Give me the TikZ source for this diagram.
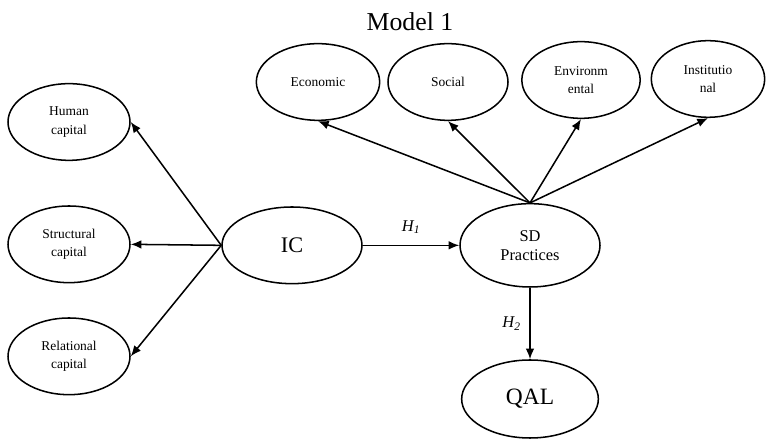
\documentclass[tikz,border=0pt]{standalone}
\usepackage{fontspec}
\setmainfont{Liberation Serif}
\usetikzlibrary{shapes,arrows.meta,positioning}

\begin{document}
\begin{tikzpicture}[>={Latex[length=3.2mm,width=2.6mm]}, line width=1.3pt,
    dim/.style={draw, ellipse, inner sep=0pt, minimum width=3.6cm, minimum height=2.3cm, align=center, font=\fontsize{11.5}{15.5}\selectfont},
    construct/.style={draw, ellipse, inner sep=0pt, minimum width=4.2cm, minimum height=2.3cm, align=center, font=\fontsize{19}{22}\selectfont}]
    \useasboundingbox (0,0) rectangle (22.98,13.23);

    % Title
    \node[font=\fontsize{22}{26}\selectfont] (title) at (12.30,12.57) {Model 1};

    % IC dimensions
    \node[dim, minimum width=3.66cm] (hum) at (2.07,9.57) {Human\\capital};
    \node[dim, minimum width=3.66cm] (str) at (2.07,5.90) {Structural\\capital};
    \node[dim, minimum width=3.66cm] (rel) at (2.07,2.54) {Relational\\capital};

    % SD dimensions
    \node[dim, minimum width=3.7cm] (eco) at (9.54,10.77) {Economic};
    \node[dim] (soc) at (13.44,10.77) {Social};
    \node[dim, minimum width=3.55cm] (env) at (17.43,10.83) {Environm\\ental};
    \node[dim, minimum width=3.4cm] (ins) at (21.24,10.86) {Institutio\\nal};

    % Main constructs
    \node[construct] (ic) at (8.76,5.87) {IC};
    \node[construct, minimum height=2.5cm, font=\fontsize{14}{16}\selectfont] (sd) at (15.90,5.87) {SD\\Practices};
    \node[construct, minimum width=4.1cm, minimum height=2.34cm, font=\fontsize{20}{22}\selectfont] (qal) at (15.90,1.26) {QAL};

    % Arrows
    \foreach \d in {hum,str,rel}
        \draw[->] (ic.west) -- (\d.east);
    \foreach \d in {eco,soc,env,ins}
        \draw[->] (sd.north) -- (\d.south);
    \draw[->] (ic.east) -- (sd.west) node[midway, above=6pt, font=\fontsize{14}{16}\selectfont\itshape] (h1) {H\textsubscript{1}};
    \draw[->] (sd.south) -- (qal.north) node[midway, left=4pt, font=\fontsize{14}{16}\selectfont\itshape] (h2) {H\textsubscript{2}};
\end{tikzpicture}
\end{document}
